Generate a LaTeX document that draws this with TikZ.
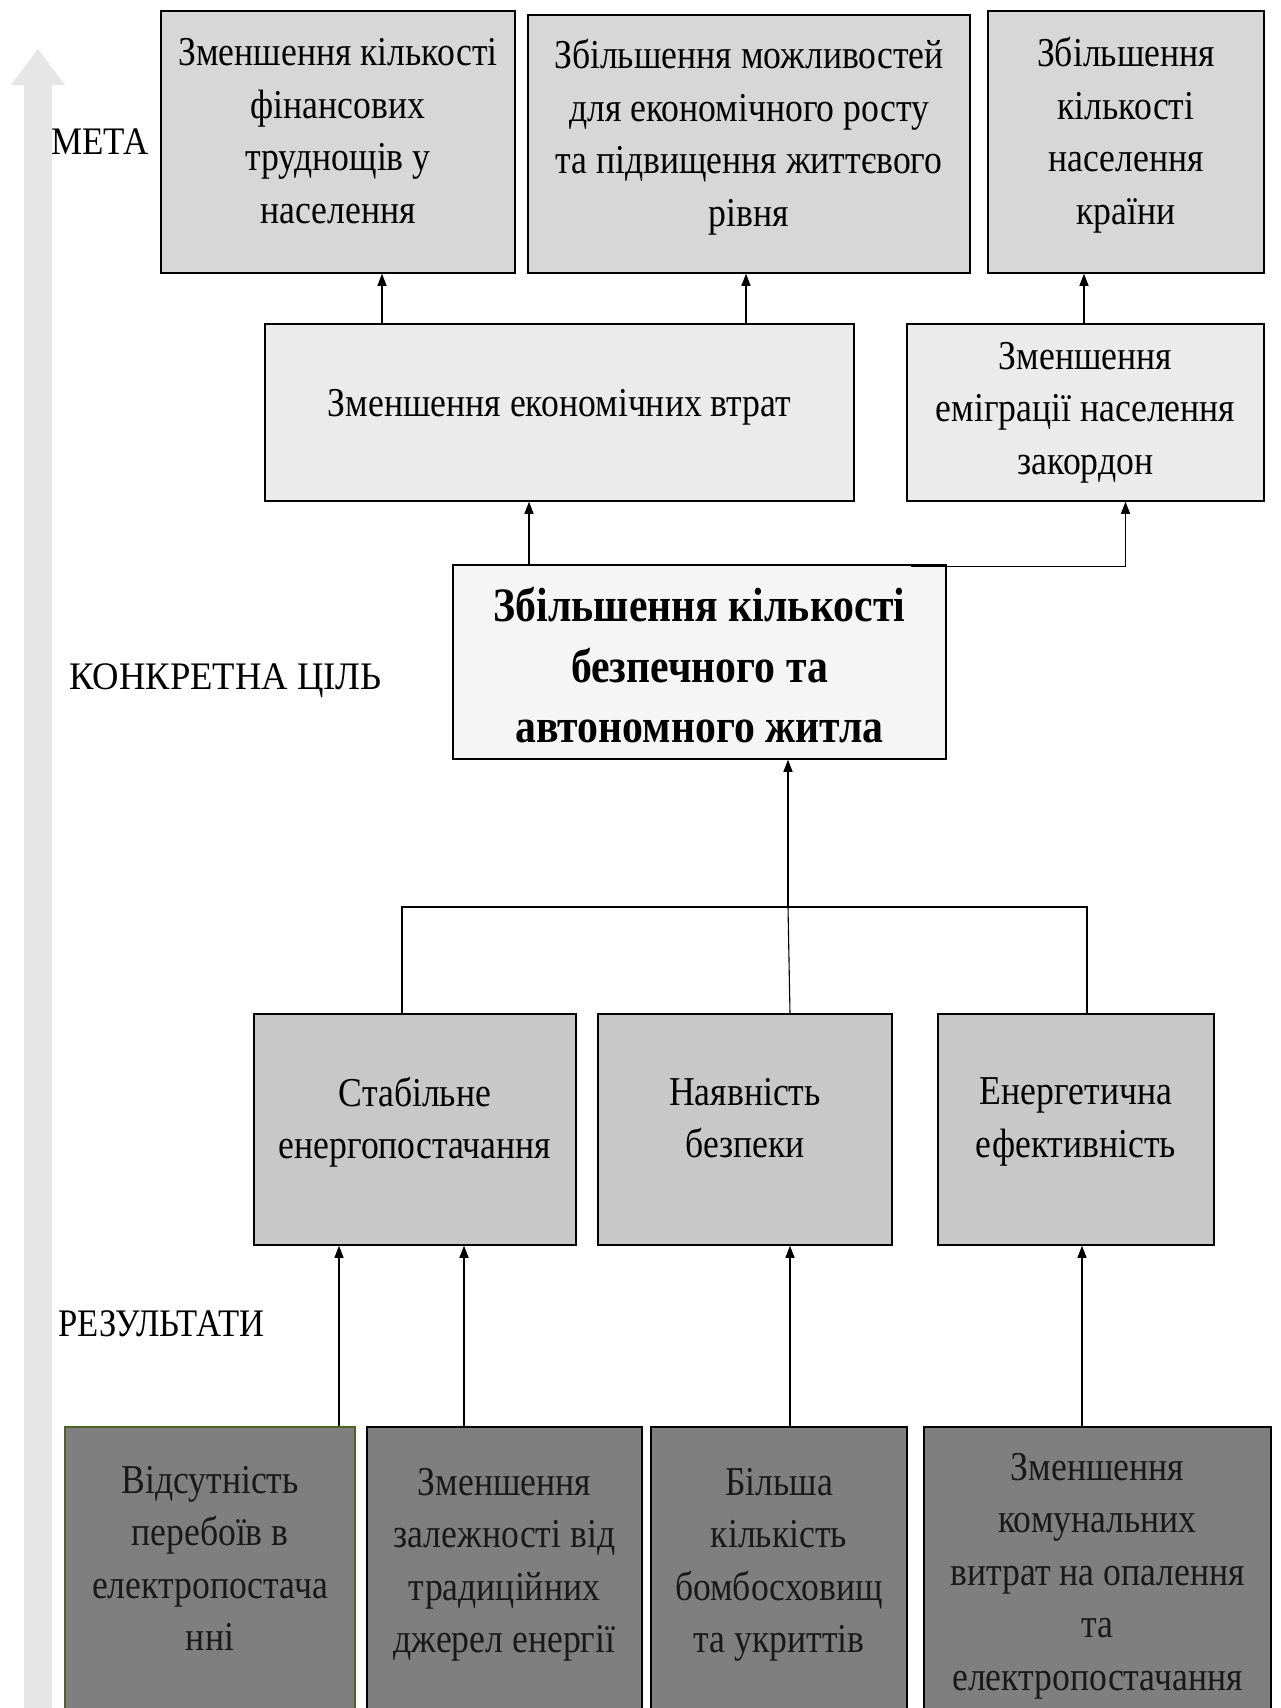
\documentclass[tikz,border=0pt]{standalone}
\usepackage{fontspec}
\usepackage{graphicx}
\setmainfont{Liberation Serif}[FakeStretch=0.87]
\usetikzlibrary{arrows.meta,calc}
\begin{document}
\begin{tikzpicture}[x=1pt,y=-1pt,
  box/.style={draw=black, line width=1.5pt, align=center, inner sep=0pt, text=black,
    font=\fontsize{41}{52.5}\selectfont},
  abox/.style={box, fill=boxA},
  bbox/.style={box, fill=boxB},
  cbox/.style={box, fill=boxC, font=\fontsize{48}{60.5}\selectfont\bfseries},
  dbox/.style={box, fill=boxD},
  ebox/.style={box, fill=boxE, text=black!90},
  lvl/.style={anchor=west, inner sep=0pt, font=\fontsize{39}{44}\selectfont},
  conn/.style={draw=black, line width=1.1pt},
  arr/.style={conn, -{Triangle[length=12pt,width=9pt]}}
]
\definecolor{boxA}{HTML}{D8D7D8}
\definecolor{boxB}{HTML}{EBEBEB}
\definecolor{boxC}{HTML}{F5F5F5}
\definecolor{boxD}{HTML}{C8C8C8}
\definecolor{boxE}{HTML}{7F7F7F}
\definecolor{bigarrow}{HTML}{E6E6E6}
\definecolor{greenborder}{HTML}{4F6228}
\useasboundingbox[fill=white] (0,0) rectangle (1280,1708);

% big vertical arrow
\fill[bigarrow] (24,1712) -- (24,85) -- (11,85) -- (38,49) -- (65,85) -- (52,85) -- (52,1712) -- cycle;

% level labels
\node[lvl] (meta) at (51,142) {\scalebox{1.03}[1]{МЕТА}};
\node[lvl] (cil) at (69,681) {\scalebox{1.08}[1]{КОНКРЕТНА ЦІЛЬ}};
\node[lvl] (res) at (58,1324) {\scalebox{1.02}[1]{РЕЗУЛЬТАТИ}};

% top goals
\node[abox, minimum width=354pt, minimum height=262pt] (a1) at (338,142)
  {Зменшення кількості\\фінансових\\труднощів у\\населення\\[-30pt]};
\node[abox, minimum width=442pt, minimum height=258pt] (a2) at (749,144)
  {Збільшення можливостей\\для економічного росту\\та підвищення життєвого\\рівня\\[-30pt]};
\node[abox, minimum width=276pt, minimum height=262pt] (a3) at (1126,142)
  {Збільшення\\кількості\\населення\\країни\\[-30pt]};

% middle
\node[bbox, minimum width=589pt, minimum height=177pt] (b1) at (559.5,412.5)
  {Зменшення економічних втрат\\[-33pt]};
\node[bbox, minimum width=357pt, minimum height=177pt] (b2) at (1085.5,412.5)
  {Зменшення\\еміграції населення\\закордон};

% specific goal
\node[cbox, minimum width=493pt, minimum height=194pt] (c) at (699.5,662)
  {\mbox{}\\[-20pt]Збільшення кількості\\безпечного та\\автономного житла};

% results
\node[dbox, minimum width=322pt, minimum height=231pt] (d1) at (415,1129.5)
  {Стабільне\\енергопостачання\\[-29pt]};
\node[dbox, minimum width=294pt, minimum height=231pt] (d2) at (745,1129.5)
  {Наявність\\безпеки\\[-29pt]};
\node[dbox, minimum width=276pt, minimum height=231pt] (d3) at (1076,1129.5)
  {Енергетична\\ефективність\\[-29pt]};

% bottom
\node[ebox, draw=greenborder, minimum width=290pt, minimum height=285pt] (e1) at (210,1569.5)
  {Відсутність\\перебоїв в\\електропостача\\нні\\[-30pt]};
\node[ebox, minimum width=275pt, minimum height=285pt] (e2) at (504.5,1569.5)
  {Зменшення\\залежності від\\традиційних\\джерел енергії\\[-34pt]};
\node[ebox, minimum width=256pt, minimum height=285pt] (e3) at (779,1569.5)
  {Більша\\кількість\\бомбосховищ\\та укриттів\\[-34pt]};
\node[ebox, minimum width=347pt, minimum height=285pt] (e4) at (1097.5,1569.5)
  {\mbox{}\\[-12pt]Зменшення\\комунальних\\витрат на опалення\\та\\електропостачання};

% connectors: B -> A
\draw[arr] (b1.north -| 382,0) -- (a1.south -| 382,0);
\draw[arr] (b1.north -| 746,0) -- (a2.south -| 746,0);
\draw[arr] (b2.north -| 1084,0) -- (a3.south -| 1084,0);

% C -> B
\draw[arr] (c.north -| 529,0) -- (b1.south -| 529,0);
\draw[arr] ([xshift=-36pt,yshift=-2pt]c.north east) -| ([xshift=40pt]b2.south);

% D -> C via bus
\coordinate (bus) at (788,907);
\draw[conn] (d1.north -| 402,0) |- (bus);
\draw[conn] (d3.north -| 1087,0) |- (bus);
\draw[conn] (d2.north -| 790,0) -- (bus);
\draw[arr] (bus) -- (c.south -| 788,0);

% E -> D
\draw[arr] (e1.north -| 339,0) -- (d1.south -| 339,0);
\draw[arr] (e2.north -| 464,0) -- (d1.south -| 464,0);
\draw[arr] (e3.north -| 790,0) -- (d2.south -| 790,0);
\draw[arr] (e4.north -| 1082,0) -- (d3.south -| 1082,0);
\end{tikzpicture}
\end{document}
